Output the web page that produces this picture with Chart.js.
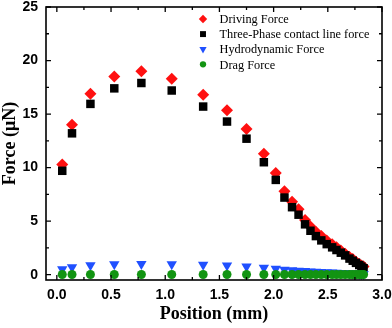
<!DOCTYPE html>
<html>
<head>
<meta charset="utf-8">
<script src="https://cdn.jsdelivr.net/npm/chart.js@4.4.0/dist/chart.umd.min.js"></script>
<style>
  html, body { margin: 0; padding: 0; background: #fff; }
  #wrap { width: 392px; height: 328px; }
</style>
</head>
<body>
<div id="wrap"><canvas id="chart" width="392" height="328"></canvas></div>
<script>
// values
const position = [0.05, 0.14, 0.31, 0.53, 0.78, 1.06, 1.35, 1.57, 1.75, 1.91, 2.02, 2.10, 2.17, 2.23, 2.29, 2.34, 2.39, 2.44, 2.49, 2.54, 2.58, 2.62, 2.66, 2.70, 2.73, 2.76, 2.79, 2.81, 2.83];
const drivingForce = [10.3, 14.0, 16.9, 18.5, 19.0, 18.3, 16.8, 15.35, 13.6, 11.3, 9.5, 7.8, 6.8, 6.1, 5.1, 4.5, 4.0, 3.6, 3.2, 2.85, 2.55, 2.25, 1.95, 1.65, 1.45, 1.2, 1.0, 0.85, 0.75];
const contactLineForce = [9.7, 13.2, 15.95, 17.4, 17.9, 17.2, 15.7, 14.3, 12.7, 10.5, 8.85, 7.2, 6.3, 5.6, 4.7, 4.1, 3.6, 3.2, 2.85, 2.55, 2.3, 2.05, 1.8, 1.5, 1.3, 1.1, 0.9, 0.75, 0.6];
const hydrodynamicForce = [0.5, 0.7, 0.87, 0.97, 1.0, 0.97, 0.92, 0.85, 0.75, 0.65, 0.55, 0.45, 0.4, 0.36, 0.33, 0.3, 0.27, 0.25, 0.23, 0.2, 0.18, 0.16, 0.14, 0.12, 0.1, 0.09, 0.08, 0.07, 0.06];
const dragForce = [0.01, 0.01, 0.01, 0.01, 0.01, 0.01, 0.01, 0.01, 0.01, 0.01, 0.01, 0.01, 0.01, 0.01, 0.01, 0.01, 0.01, 0.01, 0.01, 0.01, 0.01, 0.01, 0.01, 0.01, 0.01, 0.01, 0.01, 0.01, 0.01];

const xTickValues = [0, 0.5, 1.0, 1.5, 2.0, 2.5, 3.0];
const yTickValues = [0, 5, 10, 15, 20, 25];

const toPoints = (ys) => position.map((x, i) => ({ x: x, y: ys[i] }));

function series(label, ys, color, style, radius, order, rotation) {
  return {
    label: label,
    data: toPoints(ys),
    showLine: false,
    pointStyle: style,
    pointRadius: radius,
    pointHoverRadius: radius,
    pointRotation: rotation || 0,
    backgroundColor: color,
    borderColor: color,
    borderWidth: 0,
    order: order,
  };
}

// frame + inward ticks on all four sides
const frameTicks = {
  id: 'frameTicks',
  afterDraw(chart) {
    const { ctx, chartArea: a, scales } = chart;
    ctx.save();
    ctx.strokeStyle = '#000';
    ctx.lineWidth = 1.6;
    ctx.strokeRect(a.left, a.top, a.right - a.left, a.bottom - a.top);
    ctx.lineWidth = 1.3;
    ctx.beginPath();
    for (let v = 0; v <= 3.0001; v += 0.25) {
      const px = scales.x.getPixelForValue(v);
      const len = Math.abs(v * 2 - Math.round(v * 2)) < 1e-6 ? 5 : 3;
      ctx.moveTo(px, a.bottom); ctx.lineTo(px, a.bottom - len);
      ctx.moveTo(px, a.top); ctx.lineTo(px, a.top + len);
    }
    for (let v = 0; v <= 25.0001; v += 2.5) {
      const py = scales.y.getPixelForValue(v);
      const len = Math.abs(v / 5 - Math.round(v / 5)) < 1e-6 ? 5 : 3;
      ctx.moveTo(a.left, py); ctx.lineTo(a.left + len, py);
      ctx.moveTo(a.right, py); ctx.lineTo(a.right - len, py);
    }
    ctx.stroke();
    ctx.restore();
  }
};

// legend drawn inside the plot, top right
const innerLegend = {
  id: 'innerLegend',
  afterDraw(chart) {
    const { ctx, chartArea: a } = chart;
    ctx.save();
    ctx.font = '12.3px "Liberation Serif", "Times New Roman", serif';
    ctx.textBaseline = 'middle';
    ctx.textAlign = 'left';
    chart.data.datasets.forEach((ds, i) => {
      const mx = a.right - 179;
      const my = a.top + 12 + i * 15.1;
      ctx.fillStyle = ds.backgroundColor;
      Chart.helpers.drawPoint(ctx, {
        pointStyle: ds.pointStyle,
        radius: ds.pointRadius * 0.7,
        rotation: ds.pointRotation,
        borderWidth: 0,
      }, mx, my);
      ctx.fillStyle = '#000';
      ctx.fillText(ds.label, mx + 16.5, my + 1);
    });
    ctx.restore();
  }
};

const tickFont = { family: '"Liberation Sans", Arial, sans-serif', size: 14, weight: 'bold' };
const titleFont = { family: '"Liberation Serif", "Times New Roman", serif', size: 18, weight: 'bold' };

new Chart(document.getElementById('chart'), {
  type: 'scatter',
  data: {
    datasets: [
      series('Driving Force', drivingForce, '#ff1010', 'rectRot', 6, 4),
      series('Three-Phase contact line force', contactLineForce, '#000000', 'rect', 6, 3),
      series('Hydrodynamic Force', hydrodynamicForce, '#2050ff', 'triangle', 6, 2, 180),
      series('Drag Force', dragForce, '#129412', 'circle', 4.5, 1),
    ],
  },
  options: {
    responsive: false,
    animation: false,
    layout: { padding: { top: 7, right: 10, left: 0, bottom: 0 } },
    plugins: {
      legend: { display: false },
      tooltip: { enabled: false },
    },
    scales: {
      x: {
        type: 'linear',
        min: -0.1,
        max: 3.0,
        grid: { display: false, drawTicks: false },
        border: { display: false },
        afterBuildTicks: (s) => { s.ticks = xTickValues.map(v => ({ value: v })); },
        afterFit: (s) => { s.height = 48; s.paddingLeft = 0; s.paddingRight = 0; },
        ticks: {
          color: '#000',
          font: tickFont,
          padding: 7,
          maxRotation: 0,
          callback: (v) => Number(v).toFixed(1),
        },
        title: { display: true, text: 'Position (mm)', color: '#000', font: titleFont, padding: { top: 0, bottom: 3 } },
      },
      y: {
        type: 'linear',
        min: -0.5,
        max: 25,
        grid: { display: false, drawTicks: false },
        border: { display: false },
        afterBuildTicks: (s) => { s.ticks = yTickValues.map(v => ({ value: v })); },
        afterFit: (s) => { s.width = 46; s.paddingTop = 0; s.paddingBottom = 0; },
        ticks: {
          color: '#000',
          font: tickFont,
          padding: 8,
          callback: (v) => String(v),
        },
        title: { display: true, text: 'Force (μN)', color: '#000', font: titleFont, padding: { top: 0, bottom: 0 } },
      },
    },
  },
  plugins: [frameTicks, innerLegend],
});
</script>
</body>
</html>
